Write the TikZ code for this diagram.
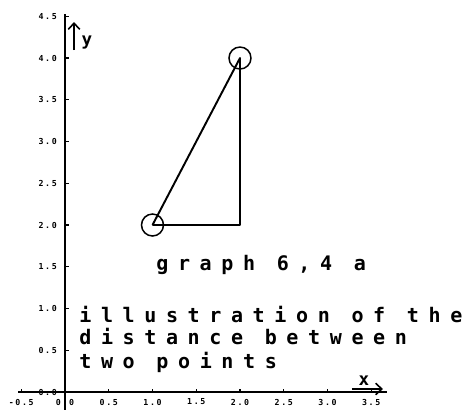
\documentclass[tikz,border=0pt]{standalone}
\usepackage{fontspec}
\usepackage{tikz}
\usetikzlibrary{arrows.meta,positioning}

\newfontfamily\plotfont[LetterSpace=48]{DejaVu Sans Mono}
\newfontfamily\tickfont[LetterSpace=20]{DejaVu Sans Mono}

\begin{document}
\begin{tikzpicture}[
  x=1.75cm, y=1.67cm,
  %% style definitions
  axis/.style   = {line width=1.1pt},
  axarr/.style  = {line width=0.9pt, -{Straight Barb[length=3.5pt,width=6.5pt]}},
  edge/.style   = {line width=1.1pt, line join=round},
  pt/.style     = {draw, circle, line width=0.85pt, minimum size=0.44cm, inner sep=0pt},
  tick/.style   = {font=\tickfont\bfseries\fontsize{4.7}{5}\selectfont, inner sep=0pt},
  caption/.style= {font=\plotfont\bfseries\fontsize{11.4}{13}\selectfont,
                   inner sep=0pt, anchor=base west},
]
\useasboundingbox (-0.743,-0.2156) rectangle (4.629,4.695);

%% ── Axes ─────────────────────────────────────────────────────────────────────
\coordinate (xstart) at (-0.537,0);
\coordinate (xend)   at (3.68,0);
\coordinate (ystart) at (0,-0.2156);
\coordinate (yend)   at (0,4.527);
\draw[axis] (xstart) -- (xend);
\draw[axis] (ystart) -- (yend);

\foreach \v/\t in {0/0.0, 0.5/0.5, 1/1.0, 1.5/1.5, 2/2.0, 2.5/2.5, 3/3.0, 3.5/3.5, 4/4.0, 4.5/4.5} {
  \draw[line width=0.6pt] (0,\v) -- ++(0.04,0);
  \node[tick, anchor=east] (ylab\t) at (-0.09,\v) {\t};
}
\foreach \u/\t in {-0.5/-0.5, 0/0.0, 0.5/0.5, 1/1.0, 1.5/1.5, 2/2.0, 2.5/2.5, 3/3.0, 3.5/3.5} {
  \draw[line width=0.6pt] (\u,0) -- ++(0,0.04);
  \node[tick] (xlab\t) at (\u,-0.12) {\t};
}

%% ── Axis labels ──────────────────────────────────────────────────────────────
\coordinate (ytail) at (0.103,4.096);
\coordinate (yhead) at (0.103,4.431);
\draw[axarr] (ytail) -- (yhead);
\node[font=\plotfont\bfseries\fontsize{10}{12}\selectfont, inner sep=0pt] (ylabel) at (0.25,4.18) {y};

\coordinate (xtail) at (3.28,0.036);
\coordinate (xhead) at (3.634,0.036);
\draw[axarr] (xtail) -- (xhead);
\node[font=\plotfont\bfseries\fontsize{10}{12}\selectfont, inner sep=0pt] (xlabel) at (3.417,0.13) {x};

%% ── The two points ───────────────────────────────────────────────────────────
\node[pt] (P) at (1,2) {};
\node[pt] (Q) at (2,4) {};
\coordinate (R) at (2,2);
\draw[edge] (P.center) -- (Q.center) -- (R) -- (P.center);

%% ── Captions ─────────────────────────────────────────────────────────────────
\node[caption] (title) at (1.04,1.461) {graph 6,4 a};
\node[caption] (line1) at (0.16,0.838) {illustration of the};
\node[caption] (line2) at (0.16,0.563) {distance between};
\node[caption] (line3) at (0.16,0.287) {two points};

\end{tikzpicture}
\end{document}
